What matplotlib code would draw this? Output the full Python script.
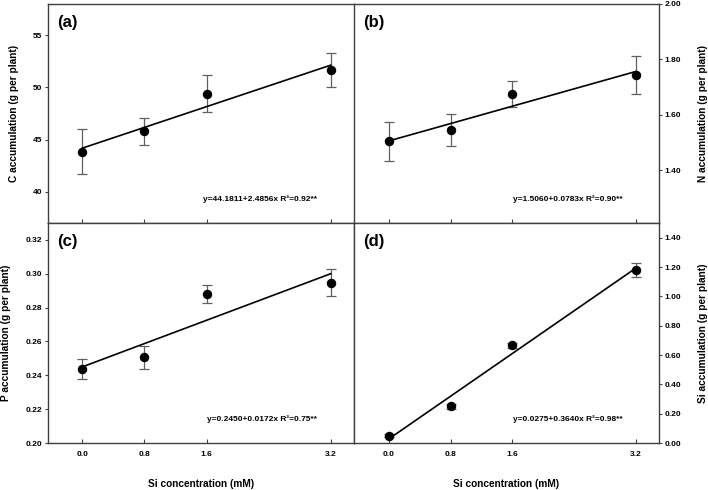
import numpy as np
import matplotlib
matplotlib.use("Agg")
import matplotlib.pyplot as plt

plt.rcParams['font.family'] = ['Liberation Sans', 'DejaVu Sans']
plt.rcParams['font.weight'] = 'bold'

# Si concentration (mM)
si_conc = [0.0, 0.8, 1.6, 3.2]

# accumulation values (g per plant)
c_acc = [43.85, 45.8, 49.4, 51.65]
c_err = [2.15, 1.3, 1.75, 1.65]
n_acc = [1.505, 1.545, 1.675, 1.743]
n_err = [0.07, 0.057, 0.048, 0.068]
p_acc = [0.2438, 0.2506, 0.288, 0.2948]
p_err = [0.006, 0.007, 0.0055, 0.0082]
si_acc = [0.05, 0.25, 0.665, 1.18]
si_err = [0.012, 0.015, 0.02, 0.045]

# regression coefficients (intercept, slope)
fits = [(44.1811, 2.4856), (1.5060, 0.0783), (0.2450, 0.0172), (0.0275, 0.3640)]
fit_labels = ["y=44.1811+2.4856x R\u00b2=0.92**",
              "y=1.5060+0.0783x R\u00b2=0.90**",
              "y=0.2450+0.0172x R\u00b2=0.75**",
              "y=0.0275+0.3640x R\u00b2=0.98**"]

panels = ["(a)", "(b)", "(c)", "(d)"]
ylabels = ["C accumulation (g per plant)", "N accumulation (g per plant)",
           "P accumulation (g per plant)", "Si accumulation (g per plant)"]
ylims = [(37, 58), (1.21, 2.0), (0.20, 0.33), (0.0, 1.5)]
yticks = [[40, 45, 50, 55],
          [1.4, 1.6, 1.8, 2.0],
          [0.20, 0.22, 0.24, 0.26, 0.28, 0.30, 0.32],
          [0.0, 0.2, 0.4, 0.6, 0.8, 1.0, 1.2, 1.4]]
yfmt = ["{:.0f}", "{:.2f}", "{:.2f}", "{:.2f}"]
means = [c_acc, n_acc, p_acc, si_acc]
errs = [c_err, n_err, p_err, si_err]

fig = plt.figure(figsize=(7.08, 4.90), dpi=100)
L, M, R = 47.5 / 708, 354 / 708, 659 / 708
T, MID, B = 1 - 4 / 490, 1 - 223 / 490, 1 - 443 / 490
rects = [[L, MID, M - L, T - MID], [M, MID, R - M, T - MID],
         [L, B, M - L, MID - B], [M, B, R - M, MID - B]]

spine_col = '#404040'
for i in range(4):
    ax = fig.add_axes(rects[i])
    x = np.array(si_conc)
    ax.errorbar(x, means[i], yerr=errs[i], fmt='none', ecolor='#606060',
                elinewidth=0.9, capsize=3.5, capthick=0.9, zorder=2)
    ax.plot(x, means[i], 'o', color='black', markersize=5.8, zorder=3)
    b0, b1 = fits[i]
    xl = np.array([si_conc[0], si_conc[-1]])
    ax.plot(xl, b0 + b1 * xl, color='black', linewidth=1.2, zorder=2)

    ax.set_xlim(-0.45, 3.5)
    ax.set_ylim(*ylims[i])
    ax.set_xticks(si_conc)
    ax.set_yticks(yticks[i])
    ax.set_yticklabels([yfmt[i].format(v) for v in yticks[i]])
    for s in ax.spines.values():
        s.set_color(spine_col)
        s.set_linewidth(1.0)
    ax.tick_params(axis='x', direction='in', length=3, color=spine_col,
                   labelsize=6, pad=6, top=False)
    ax.tick_params(axis='y', direction='out', length=2, color=spine_col,
                   labelsize=6, pad=2)
    if i < 2:
        ax.tick_params(axis='x', labelbottom=False)
    else:
        ax.set_xlabel("Si concentration (mM)", fontsize=7.3, fontweight='bold',
                      labelpad=15)
    if i % 2 == 1:
        ax.yaxis.tick_right()
        ax.yaxis.set_label_position('right')
        ax.tick_params(axis='y', direction='out', length=2, pad=2)
        ax.set_ylabel(ylabels[i], fontsize=7.3, fontweight='bold', labelpad=12)
    else:
        ax.set_ylabel(ylabels[i], fontsize=7.3, fontweight='bold', labelpad=10)
    if i == 0:
        ax.spines['right'].set_visible(False)
    ax.text(0.03, 0.95, panels[i], transform=ax.transAxes, fontsize=12,
            fontweight='bold', va='top', ha='left')
    ax.text(0.88, 0.11, fit_labels[i], transform=ax.transAxes, fontsize=6,
            fontweight='bold', ha='right', va='center')

fig.savefig("out.png", dpi=100)
